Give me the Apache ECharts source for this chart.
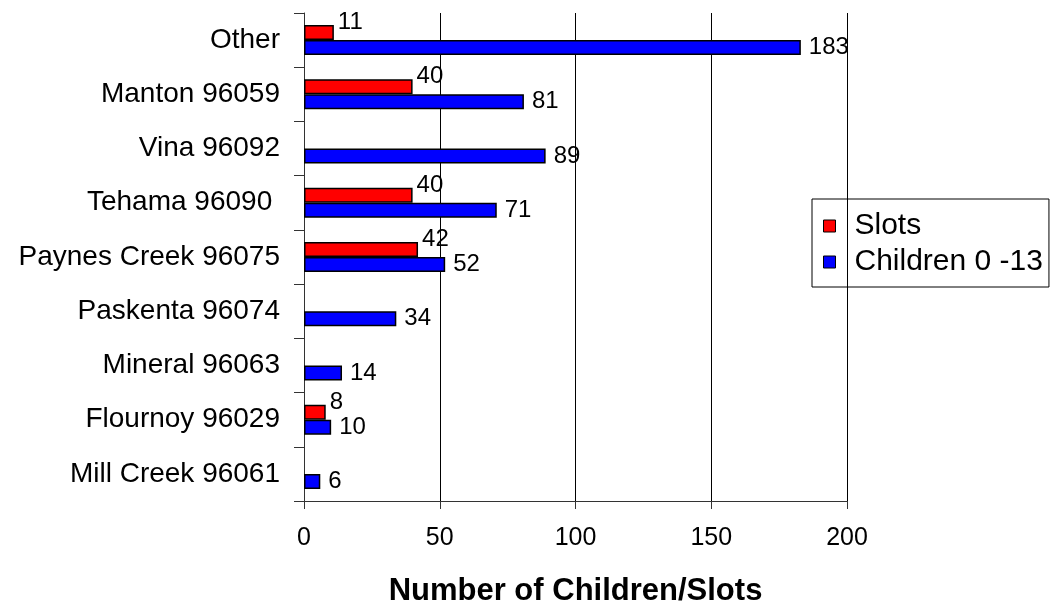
<!DOCTYPE html>
<html>
<head>
<meta charset="utf-8">
<script src="https://cdn.jsdelivr.net/npm/echarts@6/dist/echarts.min.js"></script>
<style>html,body{margin:0;padding:0;background:#fff}#c{width:1051px;height:606px}</style>
</head>
<body>
<div id="c"></div>
<script>
const categories = ["Other", "Manton 96059", "Vina 96092", "Tehama 96090 ", "Paynes Creek 96075", "Paskenta 96074", "Mineral 96063", "Flournoy 96029", "Mill Creek 96061"];
const slots = [11, 40, null, 40, 42, null, null, 8, null];
const children = [183, 81, 89, 71, 52, 34, 14, 10, 6];
const xTicks = { min: 0, max: 200, interval: 50 };

const FONT = '"Liberation Sans", Arial, sans-serif';
const chart = echarts.init(document.getElementById('c'));
chart.setOption({
  animation: false,
  backgroundColor: '#fff',
  grid: { left: 304, right: 204, top: 13, bottom: 105, containLabel: false, outerBoundsMode: 'none' },
  legend: {
    orient: 'vertical',
    left: 812, top: 199,
    data: ['Slots', 'Children 0 -13'],
    borderColor: '#000', borderWidth: 1,
    padding: [12, 6, 10, 11],
    itemWidth: 12, itemHeight: 12, itemGap: 6,
    icon: 'rect',
    itemStyle: { borderColor: '#000', borderWidth: 1 },
    textStyle: { fontFamily: FONT, fontSize: 30, color: '#000', lineHeight: 30, padding: [0, 0, 0, 14] }
  },
  xAxis: {
    type: 'value',
    min: xTicks.min, max: xTicks.max, interval: xTicks.interval,
    name: 'Number of Children/Slots',
    nameLocation: 'middle', nameGap: 75,
    nameTextStyle: { fontFamily: FONT, fontSize: 31, fontWeight: 'bold', color: '#000' },
    axisLine: { show: true, lineStyle: { color: '#333', width: 1 } },
    axisTick: { show: true, length: 8, lineStyle: { color: '#333' } },
    axisLabel: { fontFamily: FONT, fontSize: 25, color: '#000', margin: 25 },
    splitLine: { show: true, lineStyle: { color: '#000', width: 1 } }
  },
  yAxis: {
    type: 'category',
    inverse: true,
    data: categories,
    axisLine: { show: true, lineStyle: { color: '#333', width: 1 } },
    axisTick: { show: true, length: 10, lineStyle: { color: '#333' } },
    axisLabel: { fontFamily: FONT, fontSize: 28, color: '#000', margin: 24, padding: [6, 0, 0, 0] },
    splitLine: { show: false }
  },
  series: [
    {
      name: 'Slots', type: 'bar', data: slots,
      barWidth: 15, barGap: '0%',
      itemStyle: { color: '#ff0000', borderColor: '#000', borderWidth: 1.5 },
      label: { show: true, position: 'right', distance: 4, offset: [0, -10], fontFamily: FONT, fontSize: 24, color: '#000' }
    },
    {
      name: 'Children 0 -13', type: 'bar', data: children,
      barWidth: 15, barGap: '0%',
      itemStyle: { color: '#0000ff', borderColor: '#000', borderWidth: 1.5 },
      label: { show: true, position: 'right', distance: 8, fontFamily: FONT, fontSize: 24, color: '#000' }
    }
  ]
});
</script>
</body>
</html>
